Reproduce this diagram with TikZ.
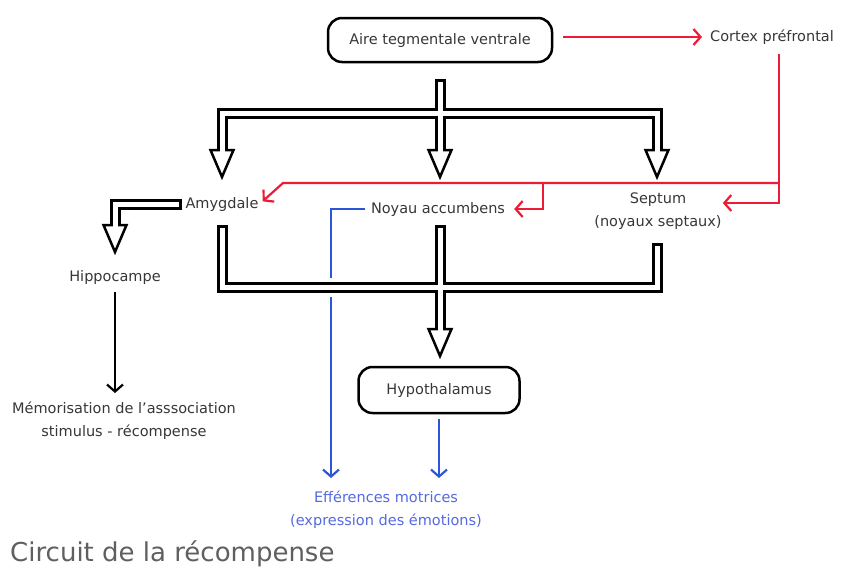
\documentclass[tikz,border=0pt]{standalone}
\usepackage{fontspec}
\setmainfont{DejaVu Sans}
\usetikzlibrary{arrows.meta}
\definecolor{rougevif}{RGB}{237,28,54}
\definecolor{bleuvif}{RGB}{45,85,215}
\definecolor{bleutexte}{RGB}{85,105,225}
\definecolor{gristexte}{RGB}{55,55,55}
\definecolor{grislegende}{RGB}{95,95,95}
\tikzset{
	txt/.style={text=gristexte,inner sep=1pt,align=center,font=\fontsize{14.5}{23}\selectfont},
	boite/.style={txt,draw=black,line width=2.5pt,rounded corners=14pt},
	halo/.style={white,line width=19pt,line join=miter},
	canal/.style={black,line width=11pt,line join=miter},
	creux/.style={white,line width=5pt,line join=miter,shorten <=3pt,shorten >=3pt},
	fleche/.style={line width=2.2pt,-{Straight Barb[length=7pt,width=16pt]}},
	rouge/.style={fleche,rougevif},
	bleu/.style={fleche,bleuvif},
}
\newcommand{\pointe}[1]{%
	\filldraw[fill=white,line width=2.5pt,line join=miter] (#1) ++(-11.5,-27) -- (#1) -- ++(11.5,-27) -- cycle;
	\fill[white] (#1) ++(-2.5,-32) rectangle ++(5,7);}
\begin{document}
\begin{tikzpicture}[x=1pt,y=-1pt]
	\useasboundingbox (0,0) rectangle (842,568);
	\node[boite,minimum width=224pt,minimum height=44pt] (atv) at (440,40) {Aire tegmentale ventrale};
	\node[txt] (cortex) at (772,37) {Cortex préfrontal};
	\node[txt] (amyg) at (222,204) {Amygdale};
	\node[txt] (noyau) at (438,209) {Noyau accumbens};
	\node[txt] (septum) at (658,211) {Septum\\(noyaux septaux)};
	\node[txt] (hippo) at (115,277) {Hippocampe};
	\node[txt] (memo) at (124,421) {Mémorisation de l'asssociation\\stimulus - récompense};
	\node[boite,minimum width=161pt,minimum height=46pt] (hypo) at (439,390) {Hypothalamus};
	\node[txt,text=bleutexte] (effer) at (386,510) {Efférences motrices\\(expression des émotions)};
	\node[anchor=base west,inner sep=0pt,text=grislegende,font=\fontsize{26}{30}\selectfont] (titre) at (10,561) {Circuit de la récompense};
	% points des tuyaux
	\coordinate (ta) at (222,177); \coordinate (tn) at (440,177); \coordinate (ts) at (657,177);
	\coordinate (th) at (115,252); \coordinate (ty) at (440,356);
	\coordinate (jh) at (440,113); \coordinate (jb) at (440,287);
	\coordinate (da) at (222,225); \coordinate (dn) at (440,225); \coordinate (ds) at (657,243);
	\coordinate (dh) at (182,204);
	\coordinate (rc) at (779,183); \coordinate (rg) at (283,183); \coordinate (rb) at (543,183);
	\coordinate (effg) at (331,478); \coordinate (effd) at (439,478);
	% sorties bleues
	\draw[bleu,shorten <=5pt] (noyau.west) -| (effg);
	\draw[bleu,shorten <=5pt] (hypo.south) -- (effd);
	% tuyaux doubles
	\foreach \couche in {halo,canal,creux}{
		\draw[\couche] ([yshift=-16pt]atv.south) -- ([yshift=27pt]tn);
		\draw[\couche] ([yshift=27pt]ta) |- (jh) -| ([yshift=27pt]ts);
		\draw[\couche] (da) |- (jb) -| (ds);
		\draw[\couche] (dn) -- ([yshift=27pt]ty);
		\draw[\couche] (dh) -| ([yshift=27pt]th);
	}
	\foreach \p in {ta,tn,ts,th,ty} \pointe{\p};
	% voies rouges
	\draw[rouge,shorten <=10pt,shorten >=7pt] (atv.east |- cortex) -- (cortex.west);
	\draw[rouge,shorten <=8pt] (rc |- cortex.south) -- (rc) |- ([yshift=8pt]septum.east);
	\draw[rouge,shorten >=4pt] (rc) -- (rg) -- (amyg.east);
	\draw[rouge,shorten >=8pt] (rb) |- (noyau.east);
	\draw[fleche,shorten <=7pt,shorten >=8pt] (hippo.south) -- (hippo.south |- memo.north);
\end{tikzpicture}
\end{document}
